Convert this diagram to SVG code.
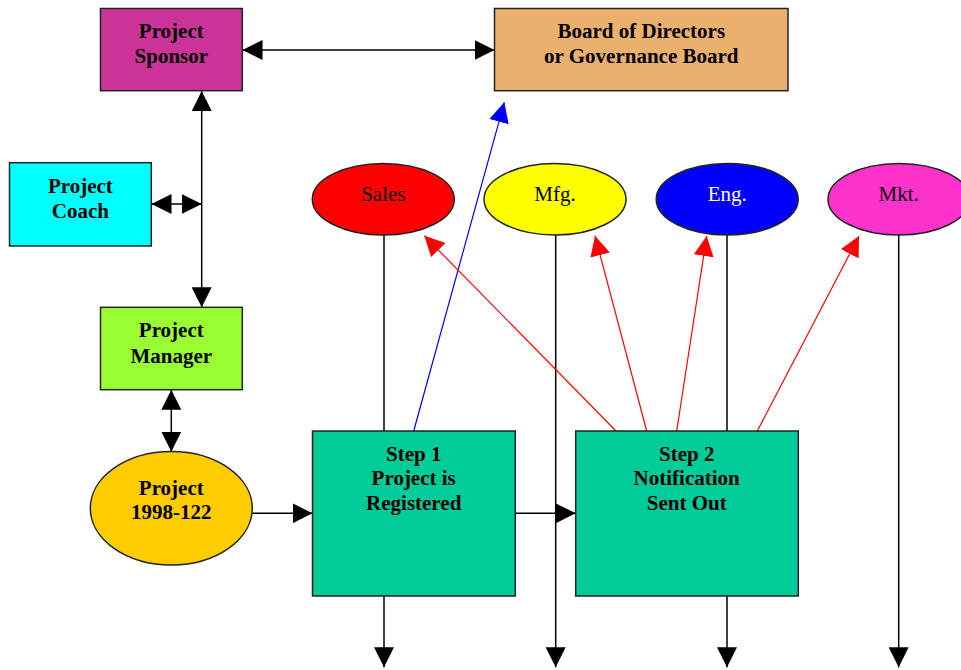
<svg xmlns="http://www.w3.org/2000/svg" width="961" height="670" viewBox="0 0 961 670">
  <defs>
    <marker id="ah-black" markerUnits="userSpaceOnUse" markerWidth="20" markerHeight="20" refX="20" refY="10" orient="auto-start-reverse" viewBox="0 0 20 20">
      <path d="M0,0 L20,10 L0,20 Z" fill="#000"/>
    </marker>
    <marker id="ah-red" markerUnits="userSpaceOnUse" markerWidth="20" markerHeight="20" refX="20" refY="10" orient="auto" viewBox="0 0 20 20">
      <path d="M0,0 L20,10 L0,20 Z" fill="#ff0000"/>
    </marker>
    <marker id="ah-blue" markerUnits="userSpaceOnUse" markerWidth="20" markerHeight="20" refX="20" refY="10" orient="auto" viewBox="0 0 20 20">
      <path d="M0,0 L20,10 L0,20 Z" fill="#0000ff"/>
    </marker>
  </defs>
  <style>
    .box { stroke: #222; stroke-width: 1.5; }
    .lbl { font-family: "Liberation Serif", "Times New Roman", serif; font-size: 21px; font-weight: bold; text-anchor: middle; fill: #000; }
    .dept { font-family: "Liberation Serif", "Times New Roman", serif; font-size: 21px; text-anchor: middle; fill: #000; }
    .link { stroke: #000; stroke-width: 1.5; fill: none; }
    .red { stroke: #ff0000; stroke-width: 1.2; fill: none; marker-end: url(#ah-red); }
    .blue { stroke: #0000ff; stroke-width: 1.2; fill: none; marker-end: url(#ah-blue); }
    .both { marker-start: url(#ah-black); marker-end: url(#ah-black); }
    .one { marker-end: url(#ah-black); }
  </style>

  <rect width="961" height="670" fill="#fff"/>

  <g id="connectors">
    <!-- sponsor <-> board -->
    <line class="link both" x1="242.5" y1="50" x2="494.5" y2="50"/>
    <!-- sponsor <-> manager -->
    <line class="link both" x1="201.7" y1="91" x2="201.7" y2="307.3"/>
    <!-- coach <-> sponsor/manager line -->
    <line class="link both" x1="151.5" y1="204" x2="201.7" y2="204"/>
    <!-- manager <-> project -->
    <line class="link both" x1="171.3" y1="389.8" x2="171.3" y2="451.7"/>
    <!-- flow -->
    <line class="link one" x1="252.3" y1="513.3" x2="312.5" y2="513.3"/>
    <line class="link one" x1="515.3" y1="513.3" x2="575.7" y2="513.3"/>
    <!-- department lanes -->
    <line class="link one" x1="384" y1="235" x2="384" y2="667.3"/>
    <line class="link one" x1="555.7" y1="235" x2="555.7" y2="667.3"/>
    <line class="link one" x1="727" y1="235" x2="727" y2="667.3"/>
    <line class="link one" x1="898.7" y1="235" x2="898.7" y2="667.3"/>
    <!-- escalation to board -->
    <line class="blue" x1="413.7" y1="431" x2="504.3" y2="102.3"/>
    <!-- notifications -->
    <line class="red" x1="616" y1="431" x2="424.3" y2="235.7"/>
    <line class="red" x1="646.7" y1="431" x2="595" y2="235.7"/>
    <line class="red" x1="676.7" y1="431" x2="706.7" y2="236"/>
    <line class="red" x1="757.3" y1="431" x2="859" y2="236"/>
  </g>

  <g id="project-sponsor">
    <rect class="box" x="100.5" y="8.5" width="141.8" height="82.2" fill="#cc3399"/>
    <text class="lbl" x="171.3" y="38.3">Project</text>
    <text class="lbl" x="171.3" y="63.3">Sponsor</text>
  </g>

  <g id="board">
    <rect class="box" x="494.5" y="8.5" width="293.5" height="82.2" fill="#ebb06e"/>
    <text class="lbl" x="641.3" y="37.7">Board of Directors</text>
    <text class="lbl" x="641.3" y="63.3">or Governance Board</text>
  </g>

  <g id="project-coach">
    <rect class="box" x="9.5" y="162.7" width="141.8" height="83.3" fill="#00ffff"/>
    <text class="lbl" x="80.4" y="192.7">Project</text>
    <text class="lbl" x="80.4" y="217.7">Coach</text>
  </g>

  <g id="project-manager">
    <rect class="box" x="100.5" y="307.3" width="141.8" height="82.4" fill="#99ff33"/>
    <text class="lbl" x="171.3" y="337.3">Project</text>
    <text class="lbl" x="171.3" y="362.7">Manager</text>
  </g>

  <g id="project">
    <ellipse class="box" cx="171.3" cy="508.3" rx="81" ry="56.7" fill="#ffcc00"/>
    <text class="lbl" x="171.3" y="495">Project</text>
    <text class="lbl" x="171.3" y="519.3">1998-122</text>
  </g>

  <g id="step-1">
    <rect class="box" x="312.5" y="431" width="202.8" height="165" fill="#00cc99"/>
    <text class="lbl" x="413.7" y="461">Step 1</text>
    <text class="lbl" x="413.7" y="484.7">Project is</text>
    <text class="lbl" x="413.7" y="509.7">Registered</text>
  </g>

  <g id="step-2">
    <rect class="box" x="575.7" y="431" width="222.6" height="165" fill="#00cc99"/>
    <text class="lbl" x="686.7" y="461">Step 2</text>
    <text class="lbl" x="686.7" y="484.7">Notification</text>
    <text class="lbl" x="686.7" y="509.7">Sent Out</text>
  </g>

  <g id="sales">
    <ellipse class="box" cx="383.3" cy="199.2" rx="71" ry="35.8" fill="#ff0000"/>
    <text class="dept" x="383.3" y="201">Sales</text>
  </g>

  <g id="mfg">
    <ellipse class="box" cx="555" cy="199.2" rx="71" ry="35.8" fill="#ffff00"/>
    <text class="dept" x="555" y="201">Mfg.</text>
  </g>

  <g id="eng">
    <ellipse class="box" cx="727.2" cy="199.2" rx="71" ry="35.8" fill="#0000ff"/>
    <text class="dept" x="727.2" y="201" fill="#fff" style="fill:#fff">Eng.</text>
  </g>

  <g id="mkt">
    <ellipse class="box" cx="899" cy="199.2" rx="71" ry="35.8" fill="#ff33cc"/>
    <text class="dept" x="898.7" y="201">Mkt.</text>
  </g>
</svg>
